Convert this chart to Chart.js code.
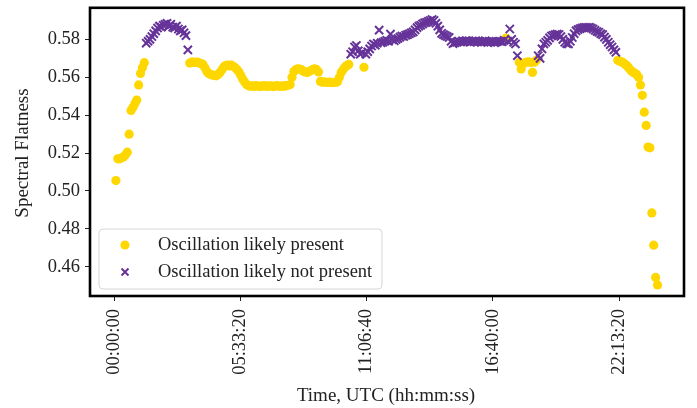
<!DOCTYPE html>
<html>
<head>
<meta charset="utf-8">
<script src="https://cdn.jsdelivr.net/npm/chart.js@4.4.1/dist/chart.umd.min.js"></script>
<style>
  html, body { margin: 0; padding: 0; background: #fff; }
  canvas { display: block; }
</style>
</head>
<body>
<canvas id="chart" width="697" height="408"></canvas>
<script>
// Sampling grid: one flatness value every 5 minutes, first sample at 00:05:00
const FIRST_SAMPLE_S = 300;
const SAMPLE_STEP_S = 300;

// Spectral flatness per sample
const flatness = [
  0.5055, 0.5170, 0.5170, 0.5175, 0.5180, 0.5190, 0.5205, 0.5300, 0.5425, 0.5440,
  0.5460, 0.5480, 0.5560, 0.5620, 0.5650, 0.5677, 0.5780, 0.5790, 0.5800, 0.5815,
  0.5830, 0.5845, 0.5860, 0.5870, 0.5865, 0.5875, 0.5880, 0.5885, 0.5870, 0.5880,
  0.5865, 0.5860, 0.5870, 0.5855, 0.5845, 0.5850, 0.5835, 0.5820, 0.5745, 0.5675,
  0.5680, 0.5680, 0.5678, 0.5680, 0.5676, 0.5672, 0.5668, 0.5650, 0.5630, 0.5620,
  0.5615, 0.5612, 0.5610, 0.5608, 0.5615, 0.5625, 0.5640, 0.5655, 0.5662, 0.5665,
  0.5660, 0.5664, 0.5658, 0.5650, 0.5640, 0.5628, 0.5610, 0.5590, 0.5575, 0.5562,
  0.5556, 0.5553, 0.5555, 0.5552, 0.5556, 0.5554, 0.5551, 0.5555, 0.5553, 0.5556,
  0.5552, 0.5554, 0.5555, 0.5551, 0.5553, 0.5556, 0.5554, 0.5552, 0.5555, 0.5553,
  0.5556, 0.5558, 0.5562, 0.5600, 0.5630, 0.5640, 0.5645, 0.5643, 0.5640, 0.5632,
  0.5628, 0.5626, 0.5630, 0.5636, 0.5642, 0.5645, 0.5640, 0.5628, 0.5578, 0.5574,
  0.5576, 0.5574, 0.5573, 0.5575, 0.5572, 0.5574, 0.5573, 0.5576, 0.5600, 0.5626,
  0.5640, 0.5655, 0.5662, 0.5668, 0.5722, 0.5735, 0.5760, 0.5768, 0.5740, 0.5722,
  0.5730, 0.5653, 0.5722, 0.5735, 0.5750, 0.5765, 0.5776, 0.5770, 0.5780, 0.5849,
  0.5782, 0.5785, 0.5790, 0.5795, 0.5790, 0.5828, 0.5798, 0.5793, 0.5800, 0.5805,
  0.5812, 0.5818, 0.5815, 0.5822, 0.5825, 0.5830, 0.5835, 0.5840, 0.5850, 0.5862,
  0.5870, 0.5875, 0.5882, 0.5888, 0.5890, 0.5895, 0.5900, 0.5905, 0.5900, 0.5885,
  0.5870, 0.5850, 0.5832, 0.5825, 0.5820, 0.5815, 0.5810, 0.5790, 0.5778, 0.5782,
  0.5785, 0.5790, 0.5786, 0.5792, 0.5788, 0.5794, 0.5790, 0.5785, 0.5791, 0.5788,
  0.5793, 0.5786, 0.5790, 0.5784, 0.5789, 0.5792, 0.5787, 0.5790, 0.5785, 0.5788,
  0.5783, 0.5787, 0.5790, 0.5790, 0.5788, 0.5795, 0.5807, 0.5790, 0.5855, 0.5800,
  0.5785, 0.5776, 0.5714, 0.5679, 0.5644, 0.5672, 0.5678, 0.5680, 0.5682, 0.5678,
  0.5626, 0.5680, 0.5690, 0.5714, 0.5700, 0.5750, 0.5776, 0.5785, 0.5795, 0.5808,
  0.5818, 0.5822, 0.5825, 0.5828, 0.5826, 0.5815, 0.5800, 0.5785, 0.5778, 0.5776,
  0.5790, 0.5810, 0.5830, 0.5845, 0.5852, 0.5856, 0.5860, 0.5862, 0.5864, 0.5863,
  0.5864, 0.5860, 0.5855, 0.5848, 0.5842, 0.5838, 0.5830, 0.5825, 0.5812, 0.5800,
  0.5785, 0.5772, 0.5760, 0.5745, 0.5732, 0.5690, 0.5685, 0.5682, 0.5676, 0.5668,
  0.5660, 0.5648, 0.5635, 0.5628, 0.5622, 0.5615, 0.5600, 0.5560, 0.5505, 0.5416,
  0.5346, 0.5232, 0.5228, 0.4884, 0.4714, 0.4544, 0.4504
];

// Classification in runs of consecutive samples: [oscillation likely present (1/0), count]
const presenceRuns = [
  [1, 16], [0, 23], [1, 85], [0, 7], [1, 1], [0, 74],
  [1, 1], [0, 6], [1, 10], [0, 42], [1, 22]
];

const seriesLabels = ['Oscillation likely present', 'Oscillation likely not present'];
const xTickSeconds = [0, 20000, 40000, 60000, 80000];
const yTickValues = [0.46, 0.48, 0.50, 0.52, 0.54, 0.56, 0.58];

const YELLOW = '#FFD700';
const PURPLE = '#663399';
const FONT = '"Liberation Serif", "Times New Roman", serif';
const TICK_SIZE = 18.5;
const TITLE_SIZE = 19;

// Expand runs into a per-sample flag list
const presentFlags = [];
presenceRuns.forEach(([flag, count]) => {
  for (let i = 0; i < count; i++) presentFlags.push(flag);
});

const presentPoints = [];
const notPresentPoints = [];
flatness.forEach((v, i) => {
  const pt = { x: FIRST_SAMPLE_S + i * SAMPLE_STEP_S, y: v };
  (presentFlags[i] ? presentPoints : notPresentPoints).push(pt);
});

function hms(sec) {
  const h = Math.floor(sec / 3600);
  const m = Math.floor((sec % 3600) / 60);
  const s = Math.round(sec % 60);
  const p = n => String(n).padStart(2, '0');
  return p(h) + ':' + p(m) + ':' + p(s);
}

// Frame, axis titles and legend box
const decorPlugin = {
  id: 'decor',
  afterDatasetsDraw(chart) {
    const { ctx, chartArea: a } = chart;
    ctx.save();

    // legend
    const lx = 99, ly = 229, lw = 283, lh = 60, r = 4;
    ctx.beginPath();
    ctx.moveTo(lx + r, ly);
    ctx.arcTo(lx + lw, ly, lx + lw, ly + lh, r);
    ctx.arcTo(lx + lw, ly + lh, lx, ly + lh, r);
    ctx.arcTo(lx, ly + lh, lx, ly, r);
    ctx.arcTo(lx, ly, lx + lw, ly, r);
    ctx.closePath();
    ctx.fillStyle = 'rgba(255,255,255,0.8)';
    ctx.fill();
    ctx.strokeStyle = '#d6d6d6';
    ctx.lineWidth = 1;
    ctx.stroke();

    ctx.fillStyle = YELLOW;
    ctx.beginPath();
    ctx.arc(125, 245, 4.6, 0, Math.PI * 2);
    ctx.fill();

    ctx.strokeStyle = PURPLE;
    ctx.lineWidth = 2;
    ctx.beginPath();
    ctx.moveTo(121.5, 268.5); ctx.lineTo(128.5, 275.5);
    ctx.moveTo(128.5, 268.5); ctx.lineTo(121.5, 275.5);
    ctx.stroke();

    ctx.fillStyle = '#222';
    ctx.font = TICK_SIZE + 'px ' + FONT;
    ctx.textAlign = 'left';
    ctx.textBaseline = 'middle';
    ctx.fillText(seriesLabels[0], 158, 245);
    ctx.fillText(seriesLabels[1], 158, 272);

    // plot frame
    ctx.strokeStyle = '#000';
    ctx.lineWidth = 2.6;
    ctx.strokeRect(a.left, a.top, a.right - a.left, a.bottom - a.top);

    // axis titles
    ctx.fillStyle = '#222';
    ctx.font = TITLE_SIZE + 'px ' + FONT;
    ctx.textAlign = 'center';
    ctx.textBaseline = 'middle';
    ctx.fillText('Time, UTC (hh:mm:ss)', 386, 396);
    ctx.translate(23, 153);
    ctx.rotate(-Math.PI / 2);
    ctx.fillText('Spectral Flatness', 0, 0);
    ctx.restore();
  }
};

Chart.defaults.font.family = FONT;
Chart.defaults.font.size = TICK_SIZE;
Chart.defaults.color = '#222';

new Chart(document.getElementById('chart'), {
  type: 'scatter',
  data: {
    datasets: [
      {
        label: seriesLabels[0],
        data: presentPoints,
        pointStyle: 'circle',
        pointRadius: 4.6,
        pointHoverRadius: 4.6,
        backgroundColor: YELLOW,
        borderColor: YELLOW,
        pointBorderWidth: 0,
        order: 2
      },
      {
        label: seriesLabels[1],
        data: notPresentPoints,
        pointStyle: 'crossRot',
        pointRadius: 5.8,
        pointHoverRadius: 5.8,
        backgroundColor: PURPLE,
        borderColor: PURPLE,
        pointBorderWidth: 2,
        order: 1
      }
    ]
  },
  options: {
    responsive: false,
    animation: false,
    events: [],
    devicePixelRatio: 1,
    layout: { padding: { top: 7, right: 13, left: 0, bottom: 0 } },
    plugins: { legend: { display: false }, tooltip: { enabled: false } },
    scales: {
      x: {
        type: 'linear',
        min: -3802,
        max: 90297,
        afterBuildTicks: s => { s.ticks = xTickSeconds.map(v => ({ value: v })); },
        afterFit: s => { s.height = 112; s.paddingLeft = 0; s.paddingRight = 0; },
        grid: { display: true, drawOnChartArea: false, drawTicks: true, tickLength: 5, color: '#222', tickWidth: 1 },
        border: { display: false },
        ticks: {
          autoSkip: false,
          minRotation: 90,
          maxRotation: 90,
          padding: 8,
          color: '#222',
          font: { size: TICK_SIZE },
          callback: v => hms(v)
        }
      },
      y: {
        type: 'linear',
        min: 0.44458,
        max: 0.59668,
        afterBuildTicks: s => { s.ticks = yTickValues.map(v => ({ value: v })); },
        afterFit: s => { s.width = 90; s.paddingTop = 0; s.paddingBottom = 0; },
        grid: { display: true, drawOnChartArea: false, drawTicks: true, tickLength: 5, color: '#222', tickWidth: 1 },
        border: { display: false },
        ticks: {
          padding: 5,
          color: '#222',
          font: { size: TICK_SIZE },
          callback: v => v.toFixed(2)
        }
      }
    }
  },
  plugins: [decorPlugin]
});
</script>
</body>
</html>
